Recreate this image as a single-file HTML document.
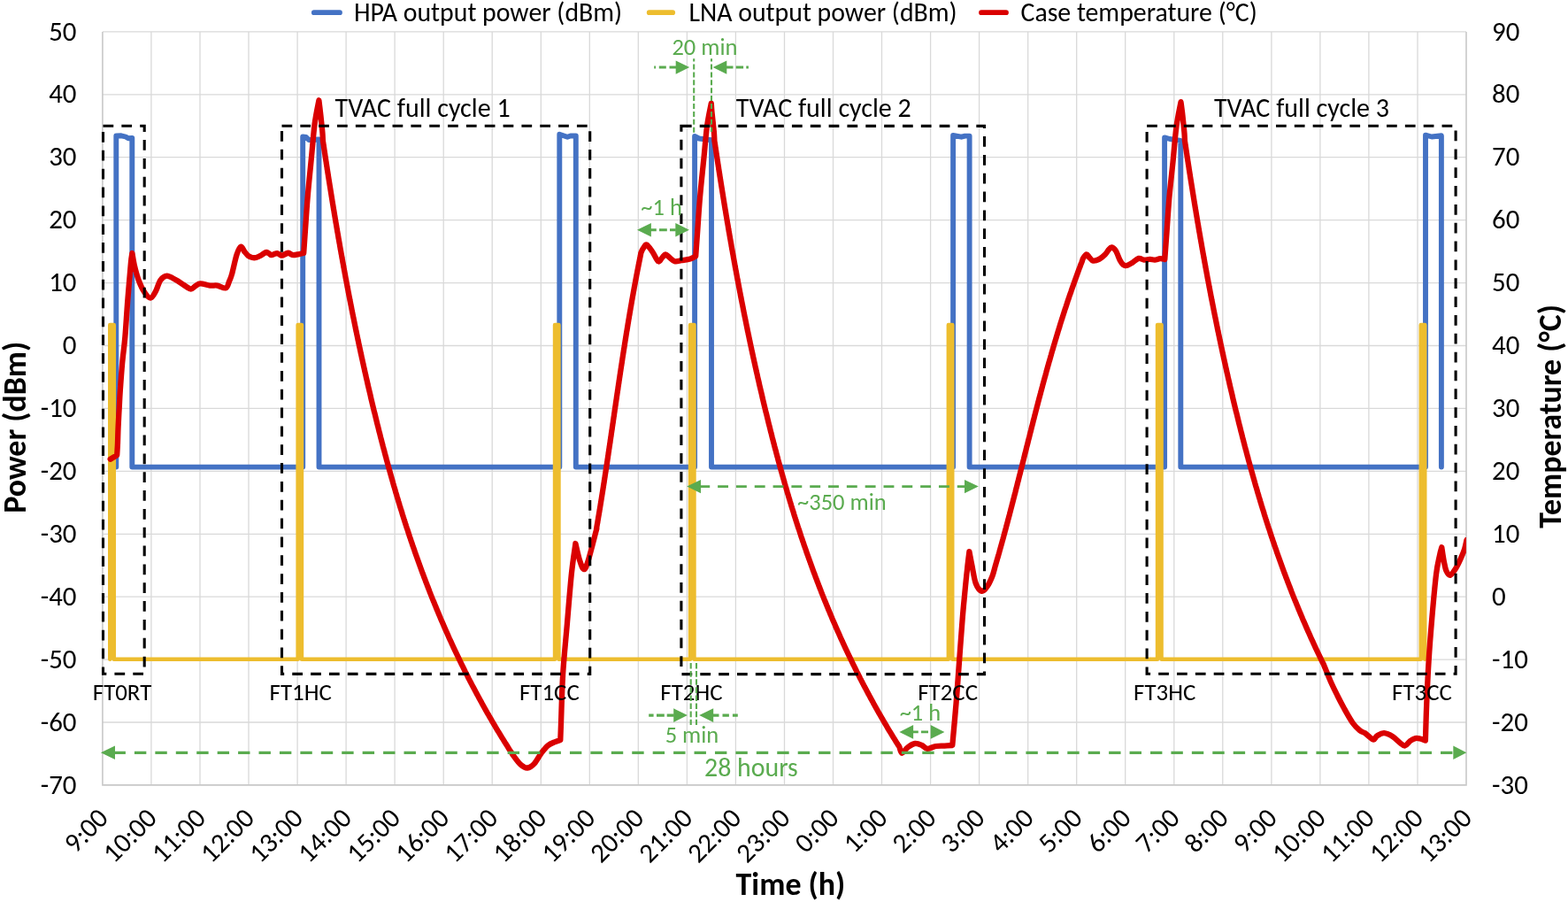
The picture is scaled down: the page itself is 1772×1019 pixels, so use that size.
<!DOCTYPE html>
<html><head><meta charset="utf-8"><title>TVAC cycles</title>
<style>html,body{margin:0;padding:0;background:#fff;overflow:hidden}svg{display:block}</style>
</head><body>
<svg width="1772" height="1019" viewBox="0 0 1772 1019">
<style>
text{font-family:Carlito, 'Liberation Sans', sans-serif;fill:#000}
.t{font-size:30.9px}
.l{font-size:29.8px}
.b{font-size:35.9px;font-weight:bold}
.a{font-size:30px}
.f{font-size:26.9px}
.h{font-size:29.9px;fill:#5aab4f}
.g{font-size:26.5px;fill:#5aab4f}
</style>
<rect width="1772" height="1019" fill="#fff"/>
<path d="M170.9 35.9V886.9 M226.0 35.9V886.9 M281.0 35.9V886.9 M336.1 35.9V886.9 M391.1 35.9V886.9 M446.1 35.9V886.9 M501.2 35.9V886.9 M556.2 35.9V886.9 M611.3 35.9V886.9 M666.3 35.9V886.9 M721.3 35.9V886.9 M776.4 35.9V886.9 M831.4 35.9V886.9 M886.5 35.9V886.9 M941.5 35.9V886.9 M996.5 35.9V886.9 M1051.6 35.9V886.9 M1106.6 35.9V886.9 M1161.7 35.9V886.9 M1216.7 35.9V886.9 M1271.7 35.9V886.9 M1326.8 35.9V886.9 M1381.8 35.9V886.9 M1436.9 35.9V886.9 M1491.9 35.9V886.9 M1546.9 35.9V886.9 M1602.0 35.9V886.9 M115.9 35.9H1657.0 M115.9 106.8H1657.0 M115.9 177.7H1657.0 M115.9 248.7H1657.0 M115.9 319.6H1657.0 M115.9 390.5H1657.0 M115.9 461.4H1657.0 M115.9 532.3H1657.0 M115.9 603.3H1657.0 M115.9 674.2H1657.0 M115.9 745.1H1657.0 M115.9 816.0H1657.0" stroke="#d9d9d9" stroke-width="1.3" fill="none"/><path d="M115.9 35.9V886.9H1657.0V35.9" stroke="#c8c8c8" stroke-width="1.6" fill="none"/><text x="86.5" y="45.5" text-anchor="end" class="t" textLength="31.3" lengthAdjust="spacingAndGlyphs">50</text><text x="1686" y="45.5" class="t" textLength="31.3" lengthAdjust="spacingAndGlyphs">90</text><text x="86.5" y="116.4" text-anchor="end" class="t" textLength="31.3" lengthAdjust="spacingAndGlyphs">40</text><text x="1686" y="116.4" class="t" textLength="31.3" lengthAdjust="spacingAndGlyphs">80</text><text x="86.5" y="187.3" text-anchor="end" class="t" textLength="31.3" lengthAdjust="spacingAndGlyphs">30</text><text x="1686" y="187.3" class="t" textLength="31.3" lengthAdjust="spacingAndGlyphs">70</text><text x="86.5" y="258.3" text-anchor="end" class="t" textLength="31.3" lengthAdjust="spacingAndGlyphs">20</text><text x="1686" y="258.3" class="t" textLength="31.3" lengthAdjust="spacingAndGlyphs">60</text><text x="86.5" y="329.2" text-anchor="end" class="t" textLength="31.3" lengthAdjust="spacingAndGlyphs">10</text><text x="1686" y="329.2" class="t" textLength="31.3" lengthAdjust="spacingAndGlyphs">50</text><text x="86.5" y="400.1" text-anchor="end" class="t" textLength="15.7" lengthAdjust="spacingAndGlyphs">0</text><text x="1686" y="400.1" class="t" textLength="31.3" lengthAdjust="spacingAndGlyphs">40</text><text x="86.5" y="471.0" text-anchor="end" class="t" textLength="40.8" lengthAdjust="spacingAndGlyphs">-10</text><text x="1686" y="471.0" class="t" textLength="31.3" lengthAdjust="spacingAndGlyphs">30</text><text x="86.5" y="541.9" text-anchor="end" class="t" textLength="40.8" lengthAdjust="spacingAndGlyphs">-20</text><text x="1686" y="541.9" class="t" textLength="31.3" lengthAdjust="spacingAndGlyphs">20</text><text x="86.5" y="612.9" text-anchor="end" class="t" textLength="40.8" lengthAdjust="spacingAndGlyphs">-30</text><text x="1686" y="612.9" class="t" textLength="31.3" lengthAdjust="spacingAndGlyphs">10</text><text x="86.5" y="683.8" text-anchor="end" class="t" textLength="40.8" lengthAdjust="spacingAndGlyphs">-40</text><text x="1686" y="683.8" class="t" textLength="15.7" lengthAdjust="spacingAndGlyphs">0</text><text x="86.5" y="754.7" text-anchor="end" class="t" textLength="40.8" lengthAdjust="spacingAndGlyphs">-50</text><text x="1686" y="754.7" class="t" textLength="40.8" lengthAdjust="spacingAndGlyphs">-10</text><text x="86.5" y="825.6" text-anchor="end" class="t" textLength="40.8" lengthAdjust="spacingAndGlyphs">-60</text><text x="1686" y="825.6" class="t" textLength="40.8" lengthAdjust="spacingAndGlyphs">-20</text><text x="86.5" y="896.5" text-anchor="end" class="t" textLength="40.8" lengthAdjust="spacingAndGlyphs">-70</text><text x="1686" y="896.5" class="t" textLength="40.8" lengthAdjust="spacingAndGlyphs">-30</text><text transform="translate(123.9,926) rotate(-45)" text-anchor="end" class="t" textLength="55.2" lengthAdjust="spacingAndGlyphs">9:00</text><text transform="translate(178.9,926) rotate(-45)" text-anchor="end" class="t" textLength="70.9" lengthAdjust="spacingAndGlyphs">10:00</text><text transform="translate(234.0,926) rotate(-45)" text-anchor="end" class="t" textLength="70.9" lengthAdjust="spacingAndGlyphs">11:00</text><text transform="translate(289.0,926) rotate(-45)" text-anchor="end" class="t" textLength="70.9" lengthAdjust="spacingAndGlyphs">12:00</text><text transform="translate(344.1,926) rotate(-45)" text-anchor="end" class="t" textLength="70.9" lengthAdjust="spacingAndGlyphs">13:00</text><text transform="translate(399.1,926) rotate(-45)" text-anchor="end" class="t" textLength="70.9" lengthAdjust="spacingAndGlyphs">14:00</text><text transform="translate(454.1,926) rotate(-45)" text-anchor="end" class="t" textLength="70.9" lengthAdjust="spacingAndGlyphs">15:00</text><text transform="translate(509.2,926) rotate(-45)" text-anchor="end" class="t" textLength="70.9" lengthAdjust="spacingAndGlyphs">16:00</text><text transform="translate(564.2,926) rotate(-45)" text-anchor="end" class="t" textLength="70.9" lengthAdjust="spacingAndGlyphs">17:00</text><text transform="translate(619.3,926) rotate(-45)" text-anchor="end" class="t" textLength="70.9" lengthAdjust="spacingAndGlyphs">18:00</text><text transform="translate(674.3,926) rotate(-45)" text-anchor="end" class="t" textLength="70.9" lengthAdjust="spacingAndGlyphs">19:00</text><text transform="translate(729.3,926) rotate(-45)" text-anchor="end" class="t" textLength="70.9" lengthAdjust="spacingAndGlyphs">20:00</text><text transform="translate(784.4,926) rotate(-45)" text-anchor="end" class="t" textLength="70.9" lengthAdjust="spacingAndGlyphs">21:00</text><text transform="translate(839.4,926) rotate(-45)" text-anchor="end" class="t" textLength="70.9" lengthAdjust="spacingAndGlyphs">22:00</text><text transform="translate(894.5,926) rotate(-45)" text-anchor="end" class="t" textLength="70.9" lengthAdjust="spacingAndGlyphs">23:00</text><text transform="translate(949.5,926) rotate(-45)" text-anchor="end" class="t" textLength="55.2" lengthAdjust="spacingAndGlyphs">0:00</text><text transform="translate(1004.5,926) rotate(-45)" text-anchor="end" class="t" textLength="55.2" lengthAdjust="spacingAndGlyphs">1:00</text><text transform="translate(1059.6,926) rotate(-45)" text-anchor="end" class="t" textLength="55.2" lengthAdjust="spacingAndGlyphs">2:00</text><text transform="translate(1114.6,926) rotate(-45)" text-anchor="end" class="t" textLength="55.2" lengthAdjust="spacingAndGlyphs">3:00</text><text transform="translate(1169.7,926) rotate(-45)" text-anchor="end" class="t" textLength="55.2" lengthAdjust="spacingAndGlyphs">4:00</text><text transform="translate(1224.7,926) rotate(-45)" text-anchor="end" class="t" textLength="55.2" lengthAdjust="spacingAndGlyphs">5:00</text><text transform="translate(1279.7,926) rotate(-45)" text-anchor="end" class="t" textLength="55.2" lengthAdjust="spacingAndGlyphs">6:00</text><text transform="translate(1334.8,926) rotate(-45)" text-anchor="end" class="t" textLength="55.2" lengthAdjust="spacingAndGlyphs">7:00</text><text transform="translate(1389.8,926) rotate(-45)" text-anchor="end" class="t" textLength="55.2" lengthAdjust="spacingAndGlyphs">8:00</text><text transform="translate(1444.9,926) rotate(-45)" text-anchor="end" class="t" textLength="55.2" lengthAdjust="spacingAndGlyphs">9:00</text><text transform="translate(1499.9,926) rotate(-45)" text-anchor="end" class="t" textLength="70.9" lengthAdjust="spacingAndGlyphs">10:00</text><text transform="translate(1554.9,926) rotate(-45)" text-anchor="end" class="t" textLength="70.9" lengthAdjust="spacingAndGlyphs">11:00</text><text transform="translate(1610.0,926) rotate(-45)" text-anchor="end" class="t" textLength="70.9" lengthAdjust="spacingAndGlyphs">12:00</text><text transform="translate(1665.0,926) rotate(-45)" text-anchor="end" class="t" textLength="70.9" lengthAdjust="spacingAndGlyphs">13:00</text><text transform="translate(28.5,482.8) rotate(-90)" text-anchor="middle" class="b" textLength="194.1" lengthAdjust="spacingAndGlyphs">Power (dBm)</text><text transform="translate(1764,470.4) rotate(-90)" text-anchor="middle" class="b" textLength="252.5" lengthAdjust="spacingAndGlyphs">Temperature (°C)</text><text x="893.4" y="1010.5" text-anchor="middle" class="b" textLength="123.6" lengthAdjust="spacingAndGlyphs">Time (h)</text><path d="M354.8 14.2H384.0" stroke="#4472c4" stroke-width="5.7" stroke-linecap="round"/><text x="400" y="24.2" class="l" textLength="303.1" lengthAdjust="spacingAndGlyphs">HPA output power (dBm)</text><path d="M733.7 14.2H760.2" stroke="#edbd2e" stroke-width="5.7" stroke-linecap="round"/><text x="778.5" y="24.2" class="l" textLength="303.1" lengthAdjust="spacingAndGlyphs">LNA output power (dBm)</text><path d="M1109 14.2H1137" stroke="#da0000" stroke-width="5.7" stroke-linecap="round"/><text x="1153.5" y="24.2" class="l" textLength="267.2" lengthAdjust="spacingAndGlyphs">Case temperature (°C)</text>
<path d="M125.0 527.6 L131.3 527.6 L131.3 153.5 L137.0 153.3 L142.0 154.5 L145.0 156.3 L149.3 156.0 L149.3 527.6 L342.2 527.6 L342.2 154.5 L346.0 155.0 L349.0 158.0 L360.5 157.5 L360.5 527.6 L632.3 527.6 L632.3 151.8 L641.2 154.7 L644.7 153.5 L650.8 153.5 L650.8 527.6 L785.1 527.6 L785.1 154.0 L790.0 156.5 L804.0 158.3 L804.0 527.6 L1077.1 527.6 L1077.1 153.0 L1086.5 154.7 L1090.6 153.6 L1095.6 153.6 L1095.6 527.6 L1316.1 527.6 L1316.1 155.4 L1322.0 157.0 L1334.3 158.8 L1334.3 527.6 L1611.0 527.6 L1611.0 152.7 L1618.0 154.5 L1628.9 153.3 L1628.9 527.6" fill="none" stroke="#4472c4" stroke-width="5.9" stroke-linejoin="round" stroke-linecap="round"/>
<path d="M124.3 744.7 L124.3 367.0 L128.7 367.0 L128.7 744.7 L336.7 744.7 L336.7 367.0 L340.9 367.0 L340.9 744.7 L627.1 744.7 L627.1 367.0 L631.4 367.0 L631.4 744.7 L780.1 744.7 L780.1 367.0 L784.4 367.0 L784.4 744.7 L1071.9 744.7 L1071.9 367.0 L1076.2 367.0 L1076.2 744.7 L1308.1 744.7 L1308.1 367.0 L1312.5 367.0 L1312.5 744.7 L1605.8 744.7 L1605.8 367.0 L1610.2 367.0 L1610.2 744.7" fill="none" stroke="#edbd2e" stroke-width="4.6" stroke-linejoin="round" stroke-linecap="round"/>
<clipPath id="pa"><rect x="115.9" y="20" width="1541.2" height="866.9"/></clipPath>
<path clip-path="url(#pa)" d="M124.7 518.7 L132.2 514.2 C132.3 511.8 132.8 505.4 133.0 500.0 C133.2 494.6 133.3 488.5 133.6 482.0 C133.9 475.5 134.3 468.0 134.7 461.0 C135.1 454.0 135.3 448.5 135.9 440.0 C136.5 431.5 137.3 420.0 138.2 410.0 C139.1 400.0 140.4 392.0 141.4 380.0 C142.4 368.0 143.3 351.7 144.4 338.0 C145.5 324.3 147.0 306.7 147.8 298.0 C148.6 289.3 149.1 288.0 149.4 286.0 C149.8 288.2 150.6 294.3 151.8 299.4 C153.0 304.5 154.8 311.4 156.7 316.6 C158.6 321.8 161.2 327.2 163.5 330.5 C165.8 333.8 168.1 336.9 170.2 336.6 C172.3 336.4 174.2 332.3 176.0 329.0 C177.8 325.7 179.2 319.5 181.3 316.6 C183.4 313.7 185.7 311.8 188.6 311.7 C191.5 311.6 195.8 314.7 198.9 316.3 C202.0 317.9 204.2 319.8 207.0 321.5 C209.8 323.2 213.1 326.2 215.4 326.5 C217.7 326.8 219.2 324.0 221.0 323.0 C222.8 322.0 223.7 320.5 226.4 320.4 C229.1 320.3 234.2 322.2 237.4 322.6 C240.6 323.0 242.6 322.1 245.6 322.6 C248.6 323.1 253.0 326.2 255.2 325.4 C257.4 324.6 257.9 320.6 259.0 318.0 C260.1 315.4 260.7 314.6 262.1 309.5 C263.5 304.4 265.9 292.6 267.6 287.5 C269.3 282.4 270.7 279.2 272.2 278.7 C273.7 278.2 275.1 282.8 276.5 284.5 C277.9 286.2 279.1 287.9 280.5 289.0 C281.9 290.1 283.5 290.7 285.0 291.0 C286.5 291.3 287.8 291.4 289.5 291.0 C291.2 290.6 293.2 289.5 295.0 288.5 C296.8 287.5 299.1 285.4 300.5 285.0 C301.9 284.6 302.5 285.5 303.5 286.0 C304.5 286.5 305.4 288.0 306.5 288.2 C307.6 288.4 308.9 287.4 310.0 287.0 C311.1 286.6 312.2 286.0 313.2 286.1 C314.2 286.2 315.1 287.1 316.0 287.5 C316.9 287.9 317.7 288.8 318.8 288.7 C319.9 288.6 321.3 287.5 322.5 287.0 C323.7 286.5 324.8 285.6 325.8 285.6 C326.8 285.6 327.6 286.6 328.5 287.0 C329.4 287.4 330.1 288.1 331.5 288.2 C332.9 288.2 335.1 287.7 337.0 287.3 C338.9 286.9 342.2 286.2 343.2 286.0 C343.5 281.4 344.3 269.6 345.1 258.4 C345.9 247.2 346.8 232.0 348.0 218.9 C349.1 205.7 350.6 192.6 351.8 179.4 C353.1 166.3 354.2 151.0 355.6 140.0 C357.1 128.9 359.6 117.7 360.4 113.3 C360.7 115.5 361.5 122.1 362.0 126.5 C362.5 130.9 363.0 135.7 363.4 139.5 C363.8 143.3 364.1 146.3 364.4 149.5 C364.7 152.7 364.8 156.8 364.9 158.8 C365.1 160.8 365.2 160.5 365.3 161.3 C365.4 162.1 365.5 163.0 365.7 163.8 C365.8 164.6 365.9 165.5 366.0 166.3 C366.2 167.1 366.3 168.0 366.4 168.8 C366.5 169.6 366.7 170.5 366.8 171.3 C366.9 172.1 367.0 173.0 367.2 173.8 C367.3 174.6 367.4 175.5 367.5 176.3 C367.7 177.1 367.8 178.0 367.9 178.8 C368.1 179.6 368.2 180.5 368.3 181.3 C368.4 182.1 368.6 183.0 368.7 183.8 C368.8 184.6 368.9 185.5 369.1 186.3 C369.2 187.1 369.3 188.0 369.5 188.8 C369.6 189.6 369.7 190.5 369.8 191.3 C370.0 192.1 370.1 193.0 370.2 193.8 C370.4 194.6 370.5 195.5 370.6 196.3 C370.8 197.1 370.9 198.0 371.0 198.8 C371.1 199.6 371.3 200.5 371.4 201.3 C371.5 202.1 371.7 203.0 371.8 203.8 C371.9 204.6 372.1 205.5 372.2 206.3 C372.3 207.1 372.5 208.0 372.6 208.8 C372.7 209.6 372.9 210.5 373.0 211.3 C373.1 212.1 373.3 213.0 373.4 213.8 C373.5 214.6 373.7 215.5 373.8 216.3 C373.9 217.1 374.1 218.0 374.2 218.8 C374.3 219.6 374.5 220.5 374.6 221.3 C374.7 222.1 374.9 223.0 375.0 223.8 C375.1 224.6 375.3 225.5 375.4 226.3 C375.5 227.1 375.7 228.0 375.8 228.8 C375.9 229.6 376.1 230.5 376.2 231.3 C376.4 232.1 376.5 233.0 376.6 233.8 C376.8 234.6 376.9 235.5 377.0 236.3 C377.2 237.1 377.3 238.0 377.5 238.8 C377.6 239.6 377.7 240.5 377.9 241.3 C378.0 242.1 378.1 243.0 378.3 243.8 C378.4 244.6 378.6 245.5 378.7 246.3 C378.8 247.1 379.0 248.0 379.1 248.8 C379.3 249.6 379.4 250.5 379.5 251.3 C379.7 252.1 379.8 253.0 380.0 253.8 C380.1 254.6 380.3 255.5 380.4 256.3 C380.5 257.1 380.7 258.0 380.8 258.8 C381.0 259.6 381.1 260.5 381.2 261.3 C381.4 262.1 381.5 263.0 381.7 263.8 C381.8 264.6 382.0 265.5 382.1 266.3 C382.3 267.1 382.4 268.0 382.5 268.8 C382.7 269.6 382.8 270.5 383.0 271.3 C383.1 272.1 383.3 273.0 383.4 273.8 C383.6 274.6 383.7 275.5 383.9 276.3 C384.0 277.1 384.1 278.0 384.3 278.8 C384.4 279.6 384.6 280.5 384.7 281.3 C384.9 282.1 385.0 283.0 385.2 283.8 C385.3 284.6 385.5 285.5 385.6 286.3 C385.8 287.1 385.9 288.0 386.1 288.8 C386.2 289.6 386.4 290.5 386.5 291.3 C386.7 292.1 386.8 293.0 387.0 293.8 C387.1 294.6 387.3 295.5 387.4 296.3 C387.6 297.1 387.7 298.0 387.9 298.8 C388.0 299.6 388.2 300.5 388.3 301.3 C388.5 302.1 388.6 303.0 388.8 303.8 C388.9 304.6 389.1 305.5 389.3 306.3 C389.4 307.1 389.6 308.0 389.7 308.8 C389.9 309.6 390.0 310.5 390.2 311.3 C390.3 312.1 390.5 313.0 390.6 313.8 C390.8 314.6 391.0 315.5 391.1 316.3 C391.3 317.1 391.4 318.0 391.6 318.8 C391.7 319.6 391.9 320.5 392.1 321.3 C392.2 322.1 392.4 323.0 392.5 323.8 C392.7 324.6 392.8 325.5 393.0 326.3 C393.2 327.1 393.3 328.0 393.5 328.8 C393.6 329.6 393.8 330.5 394.0 331.3 C394.1 332.1 394.3 333.0 394.4 333.8 C394.6 334.6 394.8 335.5 394.9 336.3 C395.1 337.1 395.3 338.0 395.4 338.8 C395.6 339.6 395.7 340.5 395.9 341.3 C396.1 342.1 396.2 343.0 396.4 343.8 C396.6 344.6 396.7 345.5 396.9 346.3 C397.1 347.1 397.2 348.0 397.4 348.8 C397.5 349.6 397.7 350.5 397.9 351.3 C398.0 352.1 398.2 353.0 398.4 353.8 C398.5 354.6 398.7 355.5 398.9 356.3 C399.0 357.1 399.2 358.0 399.4 358.8 C399.6 359.6 399.7 360.5 399.9 361.3 C400.1 362.1 400.2 363.0 400.4 363.8 C400.6 364.6 400.7 365.5 400.9 366.3 C401.1 367.1 401.2 368.0 401.4 368.8 C401.6 369.6 401.8 370.5 401.9 371.3 C402.1 372.1 402.3 373.0 402.4 373.8 C402.6 374.6 402.8 375.5 403.0 376.3 C403.1 377.1 403.3 378.0 403.5 378.8 C403.7 379.6 403.8 380.5 404.0 381.3 C404.2 382.1 404.4 383.0 404.5 383.8 C404.7 384.6 404.9 385.5 405.1 386.3 C405.2 387.1 405.4 388.0 405.6 388.8 C405.8 389.6 405.9 390.5 406.1 391.3 C406.3 392.1 406.5 393.0 406.7 393.8 C406.8 394.6 407.0 395.5 407.2 396.3 C407.4 397.1 407.6 398.0 407.7 398.8 C407.9 399.6 408.1 400.5 408.3 401.3 C408.5 402.1 408.6 403.0 408.8 403.8 C409.0 404.6 409.2 405.5 409.4 406.3 C409.6 407.1 409.7 408.0 409.9 408.8 C410.1 409.6 410.3 410.5 410.5 411.3 C410.7 412.1 410.8 413.0 411.0 413.8 C411.2 414.6 411.4 415.5 411.6 416.3 C411.8 417.1 412.0 418.0 412.1 418.8 C412.3 419.6 412.5 420.5 412.7 421.3 C412.9 422.1 413.1 423.0 413.3 423.8 C413.5 424.6 413.6 425.5 413.8 426.3 C414.0 427.1 414.2 428.0 414.4 428.8 C414.6 429.6 414.8 430.5 415.0 431.3 C415.2 432.1 415.4 433.0 415.5 433.8 C415.7 434.6 415.9 435.5 416.1 436.3 C416.3 437.1 416.5 438.0 416.7 438.8 C416.9 439.6 417.1 440.5 417.3 441.3 C417.5 442.1 417.7 443.0 417.9 443.8 C418.1 444.6 418.3 445.5 418.5 446.3 C418.7 447.1 418.9 448.0 419.0 448.8 C419.2 449.6 419.4 450.5 419.6 451.3 C419.8 452.1 420.0 453.0 420.2 453.8 C420.4 454.6 420.6 455.5 420.8 456.3 C421.0 457.1 421.2 458.0 421.4 458.8 C421.6 459.6 421.8 460.5 422.0 461.3 C422.2 462.1 422.4 463.0 422.6 463.8 C422.8 464.6 423.0 465.5 423.3 466.3 C423.5 467.1 423.7 468.0 423.9 468.8 C424.1 469.6 424.3 470.5 424.5 471.3 C424.7 472.1 424.9 473.0 425.1 473.8 C425.3 474.6 425.5 475.5 425.7 476.3 C425.9 477.1 426.1 478.0 426.3 478.8 C426.5 479.6 426.8 480.5 427.0 481.3 C427.2 482.1 427.4 483.0 427.6 483.8 C427.8 484.6 428.0 485.5 428.2 486.3 C428.4 487.1 428.6 488.0 428.9 488.8 C429.1 489.6 429.3 490.5 429.5 491.3 C429.7 492.1 429.9 493.0 430.1 493.8 C430.4 494.6 430.6 495.5 430.8 496.3 C431.0 497.1 431.2 498.0 431.4 498.8 C431.6 499.6 431.9 500.5 432.1 501.3 C432.3 502.1 432.5 503.0 432.7 503.8 C433.0 504.6 433.2 505.5 433.4 506.3 C433.6 507.1 433.8 508.0 434.1 508.8 C434.3 509.6 434.5 510.5 434.7 511.3 C434.9 512.1 435.2 513.0 435.4 513.8 C435.6 514.6 435.8 515.5 436.1 516.3 C436.3 517.1 436.5 518.0 436.7 518.8 C437.0 519.6 437.2 520.5 437.4 521.3 C437.6 522.1 437.9 523.0 438.1 523.8 C438.3 524.6 438.6 525.5 438.8 526.3 C439.0 527.1 439.2 528.0 439.5 528.8 C439.7 529.6 439.9 530.5 440.2 531.3 C440.4 532.1 440.6 533.0 440.9 533.8 C441.1 534.6 441.3 535.5 441.6 536.3 C441.8 537.1 442.0 538.0 442.3 538.8 C442.5 539.6 442.7 540.5 443.0 541.3 C443.2 542.1 443.5 543.0 443.7 543.8 C443.9 544.6 444.2 545.5 444.4 546.3 C444.7 547.1 444.9 548.0 445.1 548.8 C445.4 549.6 445.6 550.5 445.9 551.3 C446.1 552.1 446.4 553.0 446.6 553.8 C446.8 554.6 447.1 555.5 447.3 556.3 C447.6 557.1 447.8 558.0 448.1 558.8 C448.3 559.6 448.6 560.5 448.8 561.3 C449.1 562.1 449.3 563.0 449.6 563.8 C449.8 564.6 450.1 565.5 450.3 566.3 C450.6 567.1 450.8 568.0 451.1 568.8 C451.3 569.6 451.6 570.5 451.8 571.3 C452.1 572.1 452.4 573.0 452.6 573.8 C452.9 574.6 453.1 575.5 453.4 576.3 C453.6 577.1 453.9 578.0 454.2 578.8 C454.4 579.6 454.7 580.5 454.9 581.3 C455.2 582.1 455.5 583.0 455.7 583.8 C456.0 584.6 456.3 585.5 456.5 586.3 C456.8 587.1 457.1 588.0 457.3 588.8 C457.6 589.6 457.9 590.5 458.1 591.3 C458.4 592.1 458.7 593.0 458.9 593.8 C459.2 594.6 459.5 595.5 459.7 596.3 C460.0 597.1 460.3 598.0 460.6 598.8 C460.8 599.6 461.1 600.5 461.4 601.3 C461.7 602.1 461.9 603.0 462.2 603.8 C462.5 604.6 462.8 605.5 463.0 606.3 C463.3 607.1 463.6 608.0 463.9 608.8 C464.2 609.6 464.4 610.5 464.7 611.3 C465.0 612.1 465.3 613.0 465.6 613.8 C465.9 614.6 466.1 615.5 466.4 616.3 C466.7 617.1 467.0 618.0 467.3 618.8 C467.6 619.6 467.9 620.5 468.2 621.3 C468.4 622.1 468.7 623.0 469.0 623.8 C469.3 624.6 469.6 625.5 469.9 626.3 C470.2 627.1 470.5 628.0 470.8 628.8 C471.1 629.6 471.4 630.5 471.7 631.3 C472.0 632.1 472.3 633.0 472.6 633.8 C472.9 634.6 473.2 635.5 473.5 636.3 C473.8 637.1 474.1 638.0 474.4 638.8 C474.7 639.6 475.0 640.5 475.3 641.3 C475.6 642.1 475.9 643.0 476.2 643.8 C476.5 644.6 476.8 645.5 477.1 646.3 C477.4 647.1 477.8 648.0 478.1 648.8 C478.4 649.6 478.7 650.5 479.0 651.3 C479.3 652.1 479.6 653.0 480.0 653.8 C480.3 654.6 480.6 655.5 480.9 656.3 C481.2 657.1 481.5 658.0 481.9 658.8 C482.2 659.6 482.5 660.5 482.8 661.3 C483.1 662.1 483.5 663.0 483.8 663.8 C484.1 664.6 484.4 665.5 484.8 666.3 C485.1 667.1 485.4 668.0 485.7 668.8 C486.1 669.6 486.4 670.5 486.7 671.3 C487.1 672.1 487.4 673.0 487.7 673.8 C488.1 674.6 488.4 675.5 488.7 676.3 C489.1 677.1 489.4 678.0 489.7 678.8 C490.1 679.6 490.4 680.5 490.8 681.3 C491.1 682.1 491.4 683.0 491.8 683.8 C492.1 684.6 492.5 685.5 492.8 686.3 C493.1 687.1 493.5 688.0 493.8 688.8 C494.2 689.6 494.5 690.5 494.9 691.3 C495.2 692.1 495.6 693.0 495.9 693.8 C496.3 694.6 496.6 695.5 497.0 696.3 C497.3 697.1 497.7 698.0 498.0 698.8 C498.4 699.6 498.8 700.5 499.1 701.3 C499.5 702.1 499.8 703.0 500.2 703.8 C500.6 704.6 500.9 705.5 501.3 706.3 C501.6 707.1 502.0 708.0 502.4 708.8 C502.7 709.6 503.1 710.5 503.5 711.3 C503.8 712.1 504.2 713.0 504.6 713.8 C505.0 714.6 505.3 715.5 505.7 716.3 C506.1 717.1 506.4 718.0 506.8 718.8 C507.2 719.6 507.6 720.5 507.9 721.3 C508.3 722.1 508.7 723.0 509.1 723.8 C509.5 724.6 509.8 725.5 510.2 726.3 C510.6 727.1 511.0 728.0 511.4 728.8 C511.8 729.6 512.2 730.5 512.5 731.3 C512.9 732.1 513.3 733.0 513.7 733.8 C514.1 734.6 514.5 735.5 514.9 736.3 C515.3 737.1 515.7 738.0 516.1 738.8 C516.5 739.6 516.9 740.5 517.3 741.3 C517.7 742.1 518.1 743.0 518.5 743.8 C518.9 744.6 519.3 745.5 519.7 746.3 C520.1 747.1 520.5 748.0 520.9 748.8 C521.3 749.6 521.7 750.5 522.1 751.3 C522.5 752.1 522.9 753.0 523.4 753.8 C523.8 754.6 524.2 755.5 524.6 756.3 C525.0 757.1 525.4 758.0 525.8 758.8 C526.3 759.6 526.7 760.5 527.1 761.3 C527.5 762.1 527.9 763.0 528.4 763.8 C528.8 764.6 529.2 765.5 529.6 766.3 C530.1 767.1 530.5 768.0 530.9 768.8 C531.4 769.6 531.8 770.5 532.2 771.3 C532.7 772.1 533.1 773.0 533.5 773.8 C534.0 774.6 534.4 775.5 534.8 776.3 C535.3 777.1 535.7 778.0 536.2 778.8 C536.6 779.6 537.0 780.5 537.5 781.3 C537.9 782.1 538.4 783.0 538.8 783.8 C539.3 784.6 539.7 785.5 540.2 786.3 C540.6 787.1 541.1 788.0 541.5 788.8 C542.0 789.6 542.4 790.5 542.9 791.3 C543.4 792.1 543.8 793.0 544.3 793.8 C544.7 794.6 545.2 795.5 545.7 796.3 C546.1 797.1 546.6 798.0 547.1 798.8 C547.5 799.6 548.0 800.5 548.5 801.3 C548.9 802.1 549.4 803.0 549.9 803.8 C550.3 804.6 550.8 805.5 551.3 806.3 C551.8 807.1 552.2 808.0 552.7 808.8 C553.2 809.6 553.7 810.5 554.2 811.3 C554.7 812.1 555.1 813.0 555.6 813.8 C556.1 814.6 556.6 815.5 557.1 816.3 C557.6 817.1 558.1 818.0 558.6 818.8 C559.1 819.6 559.5 820.5 560.0 821.3 C560.5 822.1 561.0 823.0 561.5 823.8 C562.0 824.6 562.5 825.5 563.0 826.3 C563.5 827.1 564.0 828.0 564.6 828.8 C565.1 829.6 565.6 830.5 566.1 831.3 C566.6 832.1 567.1 833.0 567.6 833.8 C568.1 834.6 568.6 835.5 569.2 836.3 C569.7 837.1 570.2 838.0 570.7 838.8 C571.2 839.6 571.8 840.5 572.3 841.3 C572.8 842.1 573.3 843.0 573.9 843.8 C574.4 844.6 574.9 845.5 575.4 846.3 C576.0 847.1 576.5 848.0 577.0 848.8 C577.6 849.6 578.1 850.5 578.7 851.3 C579.2 852.1 578.7 851.8 580.3 853.8 C581.9 855.8 585.6 861.3 588.2 863.6 C590.8 865.9 593.4 867.7 596.0 867.5 C598.6 867.3 601.3 865.4 603.9 862.6 C606.5 859.8 609.1 854.2 611.7 850.8 C614.3 847.4 617.0 844.1 619.6 842.0 C622.2 839.9 625.1 839.1 627.4 838.1 C629.7 837.1 632.3 836.4 633.3 836.1 C633.4 833.0 633.5 830.1 634.0 817.5 C634.5 804.9 635.0 779.6 636.2 760.6 C637.4 741.6 639.4 722.7 641.0 703.7 C642.6 684.8 644.4 661.9 646.0 646.9 C647.6 631.9 649.7 619.5 650.4 614.0 C651.2 617.2 653.5 628.1 655.1 633.0 C656.7 637.9 658.2 643.0 659.8 643.2 C661.4 643.4 662.2 641.2 664.5 634.0 C666.8 626.8 672.0 606.0 673.6 600.0 C675.2 594.0 673.8 598.6 674.0 597.8 C674.1 597.0 674.3 596.1 674.4 595.3 C674.5 594.5 674.7 593.6 674.8 592.8 C675.0 592.0 675.1 591.1 675.3 590.3 C675.4 589.5 675.5 588.6 675.7 587.8 C675.8 587.0 676.0 586.1 676.1 585.3 C676.2 584.5 676.4 583.6 676.5 582.8 C676.7 582.0 676.8 581.1 676.9 580.3 C677.1 579.5 677.2 578.6 677.4 577.8 C677.5 577.0 677.6 576.1 677.8 575.3 C677.9 574.5 678.0 573.6 678.2 572.8 C678.3 572.0 678.5 571.1 678.6 570.3 C678.7 569.5 678.9 568.6 679.0 567.8 C679.1 567.0 679.3 566.1 679.4 565.3 C679.5 564.5 679.7 563.6 679.8 562.8 C679.9 562.0 680.1 561.1 680.2 560.3 C680.3 559.5 680.5 558.6 680.6 557.8 C680.7 557.0 680.9 556.1 681.0 555.3 C681.1 554.5 681.3 553.6 681.4 552.8 C681.5 552.0 681.7 551.1 681.8 550.3 C681.9 549.5 682.0 548.6 682.2 547.8 C682.3 547.0 682.4 546.1 682.6 545.3 C682.7 544.5 682.8 543.6 682.9 542.8 C683.1 542.0 683.2 541.1 683.3 540.3 C683.5 539.5 683.6 538.6 683.7 537.8 C683.8 537.0 684.0 536.1 684.1 535.3 C684.2 534.5 684.4 533.6 684.5 532.8 C684.6 532.0 684.7 531.1 684.9 530.3 C685.0 529.5 685.1 528.6 685.2 527.8 C685.4 527.0 685.5 526.1 685.6 525.3 C685.8 524.5 685.9 523.6 686.0 522.8 C686.1 522.0 686.3 521.1 686.4 520.3 C686.5 519.5 686.6 518.6 686.8 517.8 C686.9 517.0 687.0 516.1 687.1 515.3 C687.3 514.5 687.4 513.6 687.5 512.8 C687.6 512.0 687.7 511.1 687.9 510.3 C688.0 509.5 688.1 508.6 688.2 507.8 C688.4 507.0 688.5 506.1 688.6 505.3 C688.7 504.5 688.9 503.6 689.0 502.8 C689.1 502.0 689.2 501.1 689.4 500.3 C689.5 499.5 689.6 498.6 689.7 497.8 C689.8 497.0 690.0 496.1 690.1 495.3 C690.2 494.5 690.3 493.6 690.5 492.8 C690.6 492.0 690.7 491.1 690.8 490.3 C690.9 489.5 691.1 488.6 691.2 487.8 C691.3 487.0 691.4 486.1 691.6 485.3 C691.7 484.5 691.8 483.6 691.9 482.8 C692.0 482.0 692.2 481.1 692.3 480.3 C692.4 479.5 692.5 478.6 692.7 477.8 C692.8 477.0 692.9 476.1 693.0 475.3 C693.1 474.5 693.3 473.6 693.4 472.8 C693.5 472.0 693.6 471.1 693.8 470.3 C693.9 469.5 694.0 468.6 694.1 467.8 C694.2 467.0 694.4 466.1 694.5 465.3 C694.6 464.5 694.7 463.6 694.8 462.8 C695.0 462.0 695.1 461.1 695.2 460.3 C695.3 459.5 695.5 458.6 695.6 457.8 C695.7 457.0 695.8 456.1 695.9 455.3 C696.1 454.5 696.2 453.6 696.3 452.8 C696.4 452.0 696.6 451.1 696.7 450.3 C696.8 449.5 696.9 448.6 697.0 447.8 C697.2 447.0 697.3 446.1 697.4 445.3 C697.5 444.5 697.7 443.6 697.8 442.8 C697.9 442.0 698.0 441.1 698.2 440.3 C698.3 439.5 698.4 438.6 698.5 437.8 C698.6 437.0 698.8 436.1 698.9 435.3 C699.0 434.5 699.1 433.6 699.3 432.8 C699.4 432.0 699.5 431.1 699.6 430.3 C699.8 429.5 699.9 428.6 700.0 427.8 C700.1 427.0 700.3 426.1 700.4 425.3 C700.5 424.5 700.6 423.6 700.8 422.8 C700.9 422.0 701.0 421.1 701.1 420.3 C701.3 419.5 701.4 418.6 701.5 417.8 C701.6 417.0 701.8 416.1 701.9 415.3 C702.0 414.5 702.1 413.6 702.3 412.8 C702.4 412.0 702.5 411.1 702.7 410.3 C702.8 409.5 702.9 408.6 703.0 407.8 C703.2 407.0 703.3 406.1 703.4 405.3 C703.5 404.5 703.7 403.6 703.8 402.8 C703.9 402.0 704.1 401.1 704.2 400.3 C704.3 399.5 704.4 398.6 704.6 397.8 C704.7 397.0 704.8 396.1 705.0 395.3 C705.1 394.5 705.2 393.6 705.4 392.8 C705.5 392.0 705.6 391.1 705.8 390.3 C705.9 389.5 706.0 388.6 706.1 387.8 C706.3 387.0 706.4 386.1 706.5 385.3 C706.7 384.5 706.8 383.6 706.9 382.8 C707.1 382.0 707.2 381.1 707.3 380.3 C707.5 379.5 707.6 378.6 707.7 377.8 C707.9 377.0 708.0 376.1 708.1 375.3 C708.3 374.5 708.4 373.6 708.6 372.8 C708.7 372.0 708.8 371.1 709.0 370.3 C709.1 369.5 709.2 368.6 709.4 367.8 C709.5 367.0 709.6 366.1 709.8 365.3 C709.9 364.5 710.1 363.6 710.2 362.8 C710.3 362.0 710.5 361.1 710.6 360.3 C710.8 359.5 710.9 358.6 711.0 357.8 C711.2 357.0 711.3 356.1 711.5 355.3 C711.6 354.5 711.7 353.6 711.9 352.8 C712.0 352.0 712.2 351.1 712.3 350.3 C712.5 349.5 712.6 348.6 712.7 347.8 C712.9 347.0 713.0 346.1 713.2 345.3 C713.3 344.5 713.5 343.6 713.6 342.8 C713.8 342.0 713.9 341.1 714.0 340.3 C714.2 339.5 714.3 338.6 714.5 337.8 C714.6 337.0 714.8 336.1 714.9 335.3 C715.1 334.5 715.2 333.6 715.4 332.8 C715.5 332.0 715.7 331.1 715.8 330.3 C716.0 329.5 716.1 328.6 716.3 327.8 C716.4 327.0 716.6 326.1 716.7 325.3 C716.9 324.5 717.0 323.6 717.2 322.8 C717.3 322.0 717.5 321.1 717.7 320.3 C717.8 319.5 718.0 318.6 718.1 317.8 C718.3 317.0 718.4 316.1 718.6 315.3 C718.7 314.5 718.9 313.6 719.1 312.8 C719.2 312.0 719.4 311.1 719.5 310.3 C719.7 309.5 719.9 308.6 720.0 307.8 C720.2 307.0 720.3 306.1 720.5 305.3 C720.7 304.5 720.8 303.6 721.0 302.8 C721.2 302.0 721.3 301.1 721.5 300.3 C721.6 299.5 721.8 298.6 722.0 297.8 C722.1 297.0 722.3 296.1 722.5 295.3 C722.6 294.5 722.8 293.6 723.0 292.8 C723.1 292.0 723.3 291.1 723.5 290.3 C723.6 289.5 723.8 288.6 724.0 287.8 C724.2 287.0 724.0 286.5 724.5 285.3 C725.0 284.1 725.9 281.9 727.0 280.4 C728.1 278.9 729.0 275.8 730.8 276.5 C732.5 277.2 735.3 281.6 737.5 284.7 C739.7 287.8 742.0 294.1 743.8 295.2 C745.5 296.3 746.6 292.8 748.0 291.5 C749.4 290.2 750.6 287.5 752.0 287.4 C753.4 287.3 754.8 289.5 756.5 290.8 C758.2 292.1 760.2 294.6 762.5 295.2 C764.8 295.8 767.1 294.7 770.0 294.2 C772.9 293.7 777.3 293.2 780.0 292.4 C782.7 291.6 785.2 290.0 786.2 289.5 C786.5 284.9 787.4 273.1 788.2 261.9 C789.0 250.7 789.9 235.5 791.1 222.3 C792.2 209.1 793.7 196.0 795.0 182.8 C796.4 169.6 797.5 154.3 798.9 143.3 C800.4 132.3 803.0 121.1 803.8 116.6 C803.9 118.2 804.1 122.7 804.5 126.5 C804.9 130.3 805.5 135.7 805.9 139.5 C806.3 143.3 806.6 146.3 806.9 149.5 C807.2 152.7 807.3 156.8 807.4 158.8 C807.6 160.8 807.7 160.5 807.8 161.3 C807.9 162.1 808.0 163.0 808.2 163.8 C808.3 164.6 808.4 165.5 808.5 166.3 C808.7 167.1 808.8 168.0 808.9 168.8 C809.0 169.6 809.2 170.5 809.3 171.3 C809.4 172.1 809.5 173.0 809.7 173.8 C809.8 174.6 809.9 175.5 810.0 176.3 C810.2 177.1 810.3 178.0 810.4 178.8 C810.6 179.6 810.7 180.5 810.8 181.3 C810.9 182.1 811.1 183.0 811.2 183.8 C811.3 184.6 811.4 185.5 811.6 186.3 C811.7 187.1 811.8 188.0 812.0 188.8 C812.1 189.6 812.2 190.5 812.3 191.3 C812.5 192.1 812.6 193.0 812.7 193.8 C812.9 194.6 813.0 195.5 813.1 196.3 C813.3 197.1 813.4 198.0 813.5 198.8 C813.6 199.6 813.8 200.5 813.9 201.3 C814.0 202.1 814.2 203.0 814.3 203.8 C814.4 204.6 814.6 205.5 814.7 206.3 C814.8 207.1 815.0 208.0 815.1 208.8 C815.2 209.6 815.4 210.5 815.5 211.3 C815.6 212.1 815.8 213.0 815.9 213.8 C816.0 214.6 816.2 215.5 816.3 216.3 C816.4 217.1 816.6 218.0 816.7 218.8 C816.8 219.6 817.0 220.5 817.1 221.3 C817.2 222.1 817.4 223.0 817.5 223.8 C817.6 224.6 817.8 225.5 817.9 226.3 C818.0 227.1 818.2 228.0 818.3 228.8 C818.4 229.6 818.6 230.5 818.7 231.3 C818.9 232.1 819.0 233.0 819.1 233.8 C819.3 234.6 819.4 235.5 819.5 236.3 C819.7 237.1 819.8 238.0 820.0 238.8 C820.1 239.6 820.2 240.5 820.4 241.3 C820.5 242.1 820.6 243.0 820.8 243.8 C820.9 244.6 821.1 245.5 821.2 246.3 C821.3 247.1 821.5 248.0 821.6 248.8 C821.8 249.6 821.9 250.5 822.0 251.3 C822.2 252.1 822.3 253.0 822.5 253.8 C822.6 254.6 822.8 255.5 822.9 256.3 C823.0 257.1 823.2 258.0 823.3 258.8 C823.5 259.6 823.6 260.5 823.7 261.3 C823.9 262.1 824.0 263.0 824.2 263.8 C824.3 264.6 824.5 265.5 824.6 266.3 C824.8 267.1 824.9 268.0 825.0 268.8 C825.2 269.6 825.3 270.5 825.5 271.3 C825.6 272.1 825.8 273.0 825.9 273.8 C826.1 274.6 826.2 275.5 826.4 276.3 C826.5 277.1 826.6 278.0 826.8 278.8 C826.9 279.6 827.1 280.5 827.2 281.3 C827.4 282.1 827.5 283.0 827.7 283.8 C827.8 284.6 828.0 285.5 828.1 286.3 C828.3 287.1 828.4 288.0 828.6 288.8 C828.7 289.6 828.9 290.5 829.0 291.3 C829.2 292.1 829.3 293.0 829.5 293.8 C829.6 294.6 829.8 295.5 829.9 296.3 C830.1 297.1 830.2 298.0 830.4 298.8 C830.5 299.6 830.7 300.5 830.8 301.3 C831.0 302.1 831.1 303.0 831.3 303.8 C831.4 304.6 831.6 305.5 831.8 306.3 C831.9 307.1 832.1 308.0 832.2 308.8 C832.4 309.6 832.5 310.5 832.7 311.3 C832.8 312.1 833.0 313.0 833.1 313.8 C833.3 314.6 833.5 315.5 833.6 316.3 C833.8 317.1 833.9 318.0 834.1 318.8 C834.2 319.6 834.4 320.5 834.6 321.3 C834.7 322.1 834.9 323.0 835.0 323.8 C835.2 324.6 835.3 325.5 835.5 326.3 C835.7 327.1 835.8 328.0 836.0 328.8 C836.1 329.6 836.3 330.5 836.5 331.3 C836.6 332.1 836.8 333.0 836.9 333.8 C837.1 334.6 837.3 335.5 837.4 336.3 C837.6 337.1 837.8 338.0 837.9 338.8 C838.1 339.6 838.2 340.5 838.4 341.3 C838.6 342.1 838.7 343.0 838.9 343.8 C839.1 344.6 839.2 345.5 839.4 346.3 C839.6 347.1 839.7 348.0 839.9 348.8 C840.0 349.6 840.2 350.5 840.4 351.3 C840.5 352.1 840.7 353.0 840.9 353.8 C841.0 354.6 841.2 355.5 841.4 356.3 C841.5 357.1 841.7 358.0 841.9 358.8 C842.1 359.6 842.2 360.5 842.4 361.3 C842.6 362.1 842.7 363.0 842.9 363.8 C843.1 364.6 843.2 365.5 843.4 366.3 C843.6 367.1 843.7 368.0 843.9 368.8 C844.1 369.6 844.3 370.5 844.4 371.3 C844.6 372.1 844.8 373.0 844.9 373.8 C845.1 374.6 845.3 375.5 845.5 376.3 C845.6 377.1 845.8 378.0 846.0 378.8 C846.2 379.6 846.3 380.5 846.5 381.3 C846.7 382.1 846.9 383.0 847.0 383.8 C847.2 384.6 847.4 385.5 847.6 386.3 C847.7 387.1 847.9 388.0 848.1 388.8 C848.3 389.6 848.4 390.5 848.6 391.3 C848.8 392.1 849.0 393.0 849.2 393.8 C849.3 394.6 849.5 395.5 849.7 396.3 C849.9 397.1 850.1 398.0 850.2 398.8 C850.4 399.6 850.6 400.5 850.8 401.3 C851.0 402.1 851.1 403.0 851.3 403.8 C851.5 404.6 851.7 405.5 851.9 406.3 C852.1 407.1 852.2 408.0 852.4 408.8 C852.6 409.6 852.8 410.5 853.0 411.3 C853.2 412.1 853.3 413.0 853.5 413.8 C853.7 414.6 853.9 415.5 854.1 416.3 C854.3 417.1 854.5 418.0 854.6 418.8 C854.8 419.6 855.0 420.5 855.2 421.3 C855.4 422.1 855.6 423.0 855.8 423.8 C856.0 424.6 856.1 425.5 856.3 426.3 C856.5 427.1 856.7 428.0 856.9 428.8 C857.1 429.6 857.3 430.5 857.5 431.3 C857.7 432.1 857.9 433.0 858.0 433.8 C858.2 434.6 858.4 435.5 858.6 436.3 C858.8 437.1 859.0 438.0 859.2 438.8 C859.4 439.6 859.6 440.5 859.8 441.3 C860.0 442.1 860.2 443.0 860.4 443.8 C860.6 444.6 860.8 445.5 861.0 446.3 C861.2 447.1 861.4 448.0 861.5 448.8 C861.7 449.6 861.9 450.5 862.1 451.3 C862.3 452.1 862.5 453.0 862.7 453.8 C862.9 454.6 863.1 455.5 863.3 456.3 C863.5 457.1 863.7 458.0 863.9 458.8 C864.1 459.6 864.3 460.5 864.5 461.3 C864.7 462.1 864.9 463.0 865.1 463.8 C865.3 464.6 865.5 465.5 865.8 466.3 C866.0 467.1 866.2 468.0 866.4 468.8 C866.6 469.6 866.8 470.5 867.0 471.3 C867.2 472.1 867.4 473.0 867.6 473.8 C867.8 474.6 868.0 475.5 868.2 476.3 C868.4 477.1 868.6 478.0 868.8 478.8 C869.0 479.6 869.3 480.5 869.5 481.3 C869.7 482.1 869.9 483.0 870.1 483.8 C870.3 484.6 870.5 485.5 870.7 486.3 C870.9 487.1 871.1 488.0 871.4 488.8 C871.6 489.6 871.8 490.5 872.0 491.3 C872.2 492.1 872.4 493.0 872.6 493.8 C872.9 494.6 873.1 495.5 873.3 496.3 C873.5 497.1 873.7 498.0 873.9 498.8 C874.1 499.6 874.4 500.5 874.6 501.3 C874.8 502.1 875.0 503.0 875.2 503.8 C875.5 504.6 875.7 505.5 875.9 506.3 C876.1 507.1 876.3 508.0 876.6 508.8 C876.8 509.6 877.0 510.5 877.2 511.3 C877.4 512.1 877.7 513.0 877.9 513.8 C878.1 514.6 878.3 515.5 878.6 516.3 C878.8 517.1 879.0 518.0 879.2 518.8 C879.5 519.6 879.7 520.5 879.9 521.3 C880.1 522.1 880.4 523.0 880.6 523.8 C880.8 524.6 881.1 525.5 881.3 526.3 C881.5 527.1 881.7 528.0 882.0 528.8 C882.2 529.6 882.4 530.5 882.7 531.3 C882.9 532.1 883.1 533.0 883.4 533.8 C883.6 534.6 883.8 535.5 884.1 536.3 C884.3 537.1 884.5 538.0 884.8 538.8 C885.0 539.6 885.2 540.5 885.5 541.3 C885.7 542.1 886.0 543.0 886.2 543.8 C886.4 544.6 886.7 545.5 886.9 546.3 C887.2 547.1 887.4 548.0 887.6 548.8 C887.9 549.6 888.1 550.5 888.4 551.3 C888.6 552.1 888.9 553.0 889.1 553.8 C889.3 554.6 889.6 555.5 889.8 556.3 C890.1 557.1 890.3 558.0 890.6 558.8 C890.8 559.6 891.1 560.5 891.3 561.3 C891.6 562.1 891.8 563.0 892.1 563.8 C892.3 564.6 892.6 565.5 892.8 566.3 C893.1 567.1 893.3 568.0 893.6 568.8 C893.8 569.6 894.1 570.5 894.3 571.3 C894.6 572.1 894.9 573.0 895.1 573.8 C895.4 574.6 895.6 575.5 895.9 576.3 C896.1 577.1 896.4 578.0 896.7 578.8 C896.9 579.6 897.2 580.5 897.4 581.3 C897.7 582.1 898.0 583.0 898.2 583.8 C898.5 584.6 898.8 585.5 899.0 586.3 C899.3 587.1 899.6 588.0 899.8 588.8 C900.1 589.6 900.4 590.5 900.6 591.3 C900.9 592.1 901.2 593.0 901.4 593.8 C901.7 594.6 902.0 595.5 902.2 596.3 C902.5 597.1 902.8 598.0 903.1 598.8 C903.3 599.6 903.6 600.5 903.9 601.3 C904.2 602.1 904.4 603.0 904.7 603.8 C905.0 604.6 905.3 605.5 905.5 606.3 C905.8 607.1 906.1 608.0 906.4 608.8 C906.7 609.6 906.9 610.5 907.2 611.3 C907.5 612.1 907.8 613.0 908.1 613.8 C908.4 614.6 908.6 615.5 908.9 616.3 C909.2 617.1 909.5 618.0 909.8 618.8 C910.1 619.6 910.4 620.5 910.7 621.3 C910.9 622.1 911.2 623.0 911.5 623.8 C911.8 624.6 912.1 625.5 912.4 626.3 C912.7 627.1 913.0 628.0 913.3 628.8 C913.6 629.6 913.9 630.5 914.2 631.3 C914.5 632.1 914.8 633.0 915.1 633.8 C915.4 634.6 915.7 635.5 916.0 636.3 C916.3 637.1 916.6 638.0 916.9 638.8 C917.2 639.6 917.5 640.5 917.8 641.3 C918.1 642.1 918.4 643.0 918.7 643.8 C919.0 644.6 919.3 645.5 919.6 646.3 C919.9 647.1 920.3 648.0 920.6 648.8 C920.9 649.6 921.2 650.5 921.5 651.3 C921.8 652.1 922.1 653.0 922.5 653.8 C922.8 654.6 923.1 655.5 923.4 656.3 C923.7 657.1 924.0 658.0 924.4 658.8 C924.7 659.6 925.0 660.5 925.3 661.3 C925.6 662.1 926.0 663.0 926.3 663.8 C926.6 664.6 926.9 665.5 927.3 666.3 C927.6 667.1 927.9 668.0 928.2 668.8 C928.6 669.6 928.9 670.5 929.2 671.3 C929.6 672.1 929.9 673.0 930.2 673.8 C930.6 674.6 930.9 675.5 931.2 676.3 C931.6 677.1 931.9 678.0 932.2 678.8 C932.6 679.6 932.9 680.5 933.3 681.3 C933.6 682.1 933.9 683.0 934.3 683.8 C934.6 684.6 935.0 685.5 935.3 686.3 C935.6 687.1 936.0 688.0 936.3 688.8 C936.7 689.6 937.0 690.5 937.4 691.3 C937.7 692.1 938.1 693.0 938.4 693.8 C938.8 694.6 939.1 695.5 939.5 696.3 C939.8 697.1 940.2 698.0 940.5 698.8 C940.9 699.6 941.3 700.5 941.6 701.3 C942.0 702.1 942.3 703.0 942.7 703.8 C943.1 704.6 943.4 705.5 943.8 706.3 C944.1 707.1 944.5 708.0 944.9 708.8 C945.2 709.6 945.6 710.5 946.0 711.3 C946.3 712.1 946.7 713.0 947.1 713.8 C947.5 714.6 947.8 715.5 948.2 716.3 C948.6 717.1 948.9 718.0 949.3 718.8 C949.7 719.6 950.1 720.5 950.4 721.3 C950.8 722.1 951.2 723.0 951.6 723.8 C952.0 724.6 952.3 725.5 952.7 726.3 C953.1 727.1 953.5 728.0 953.9 728.8 C954.3 729.6 954.7 730.5 955.0 731.3 C955.4 732.1 955.8 733.0 956.2 733.8 C956.6 734.6 957.0 735.5 957.4 736.3 C957.8 737.1 958.2 738.0 958.6 738.8 C959.0 739.6 959.4 740.5 959.8 741.3 C960.2 742.1 960.6 743.0 961.0 743.8 C961.4 744.6 961.8 745.5 962.2 746.3 C962.6 747.1 963.0 748.0 963.4 748.8 C963.8 749.6 964.2 750.5 964.6 751.3 C965.0 752.1 965.4 753.0 965.9 753.8 C966.3 754.6 966.7 755.5 967.1 756.3 C967.5 757.1 967.9 758.0 968.3 758.8 C968.8 759.6 969.2 760.5 969.6 761.3 C970.0 762.1 970.4 763.0 970.9 763.8 C971.3 764.6 971.7 765.5 972.1 766.3 C972.6 767.1 973.0 768.0 973.4 768.8 C973.9 769.6 974.3 770.5 974.7 771.3 C975.2 772.1 975.6 773.0 976.0 773.8 C976.5 774.6 976.9 775.5 977.3 776.3 C977.8 777.1 978.2 778.0 978.7 778.8 C979.1 779.6 979.5 780.5 980.0 781.3 C980.4 782.1 980.9 783.0 981.3 783.8 C981.8 784.6 982.2 785.5 982.7 786.3 C983.1 787.1 983.6 788.0 984.0 788.8 C984.5 789.6 984.9 790.5 985.4 791.3 C985.9 792.1 986.3 793.0 986.8 793.8 C987.2 794.6 987.7 795.5 988.2 796.3 C988.6 797.1 989.1 798.0 989.6 798.8 C990.0 799.6 990.5 800.5 991.0 801.3 C991.4 802.1 991.9 803.0 992.4 803.8 C992.8 804.6 993.3 805.5 993.8 806.3 C994.3 807.1 994.7 808.0 995.2 808.8 C995.7 809.6 996.2 810.5 996.7 811.3 C997.2 812.1 997.6 813.0 998.1 813.8 C998.6 814.6 999.1 815.5 999.6 816.3 C1000.1 817.1 1000.6 818.0 1001.1 818.8 C1001.6 819.6 1002.0 820.5 1002.5 821.3 C1003.0 822.1 1003.5 823.0 1004.0 823.8 C1004.5 824.6 1005.0 825.5 1005.5 826.3 C1006.0 827.1 1006.5 828.0 1007.1 828.8 C1007.6 829.6 1008.1 830.5 1008.6 831.3 C1009.1 832.1 1009.6 833.0 1010.1 833.8 C1010.6 834.6 1011.1 835.5 1011.7 836.3 C1012.2 837.1 1012.7 838.0 1013.2 838.8 C1013.7 839.6 1014.3 840.5 1014.8 841.3 C1015.3 842.1 1015.6 842.2 1016.4 843.8 C1017.1 845.4 1017.7 850.8 1019.3 850.8 C1020.9 850.8 1023.7 845.8 1026.2 844.0 C1028.7 842.2 1031.5 840.3 1034.1 840.0 C1036.7 839.7 1039.6 841.0 1041.9 842.0 C1044.2 843.0 1045.2 845.7 1047.8 845.9 C1050.4 846.1 1054.3 843.5 1057.6 843.0 C1060.9 842.5 1064.3 842.8 1067.4 842.6 C1070.5 842.4 1074.8 842.1 1076.3 842.0 C1077.0 834.2 1079.2 810.7 1080.5 795.0 C1081.8 779.3 1082.8 763.8 1084.0 748.0 C1085.2 732.2 1086.5 713.0 1087.6 700.0 C1088.6 687.0 1089.4 679.6 1090.3 670.0 C1091.2 660.4 1092.2 650.3 1093.1 642.5 C1093.9 634.7 1095.0 626.4 1095.4 623.2 C1095.9 626.0 1097.4 633.7 1098.6 639.7 C1099.8 645.7 1100.9 654.3 1102.7 659.0 C1104.5 663.7 1107.4 667.3 1109.6 667.9 C1111.8 668.5 1113.8 665.2 1115.7 662.5 C1117.6 659.8 1119.7 655.2 1121.2 651.5 C1122.7 647.8 1124.0 642.1 1124.6 640.0 C1125.2 637.9 1124.7 639.7 1124.9 639.1 C1125.0 638.5 1125.4 637.4 1125.6 636.6 C1125.8 635.8 1126.1 634.9 1126.3 634.1 C1126.6 633.3 1126.8 632.4 1127.0 631.6 C1127.3 630.8 1127.5 629.9 1127.8 629.1 C1128.0 628.3 1128.2 627.4 1128.5 626.6 C1128.7 625.8 1128.9 624.9 1129.2 624.1 C1129.4 623.3 1129.7 622.4 1129.9 621.6 C1130.1 620.8 1130.4 619.9 1130.6 619.1 C1130.8 618.3 1131.1 617.4 1131.3 616.6 C1131.5 615.8 1131.8 614.9 1132.0 614.1 C1132.2 613.3 1132.5 612.4 1132.7 611.6 C1132.9 610.8 1133.1 609.9 1133.4 609.1 C1133.6 608.3 1133.8 607.4 1134.1 606.6 C1134.3 605.8 1134.5 604.9 1134.7 604.1 C1135.0 603.3 1135.2 602.4 1135.4 601.6 C1135.6 600.8 1135.9 599.9 1136.1 599.1 C1136.3 598.3 1136.5 597.4 1136.8 596.6 C1137.0 595.8 1137.2 594.9 1137.4 594.1 C1137.7 593.3 1137.9 592.4 1138.1 591.6 C1138.3 590.8 1138.6 589.9 1138.8 589.1 C1139.0 588.3 1139.2 587.4 1139.4 586.6 C1139.7 585.8 1139.9 584.9 1140.1 584.1 C1140.3 583.3 1140.5 582.4 1140.8 581.6 C1141.0 580.8 1141.2 579.9 1141.4 579.1 C1141.6 578.3 1141.9 577.4 1142.1 576.6 C1142.3 575.8 1142.5 574.9 1142.7 574.1 C1142.9 573.3 1143.2 572.4 1143.4 571.6 C1143.6 570.8 1143.8 569.9 1144.0 569.1 C1144.2 568.3 1144.5 567.4 1144.7 566.6 C1144.9 565.8 1145.1 564.9 1145.3 564.1 C1145.5 563.3 1145.8 562.4 1146.0 561.6 C1146.2 560.8 1146.4 559.9 1146.6 559.1 C1146.8 558.3 1147.0 557.4 1147.3 556.6 C1147.5 555.8 1147.7 554.9 1147.9 554.1 C1148.1 553.3 1148.3 552.4 1148.5 551.6 C1148.7 550.8 1149.0 549.9 1149.2 549.1 C1149.4 548.3 1149.6 547.4 1149.8 546.6 C1150.0 545.8 1150.2 544.9 1150.4 544.1 C1150.7 543.3 1150.9 542.4 1151.1 541.6 C1151.3 540.8 1151.5 539.9 1151.7 539.1 C1151.9 538.3 1152.1 537.4 1152.3 536.6 C1152.6 535.8 1152.8 534.9 1153.0 534.1 C1153.2 533.3 1153.4 532.4 1153.6 531.6 C1153.8 530.8 1154.0 529.9 1154.2 529.1 C1154.4 528.3 1154.7 527.4 1154.9 526.6 C1155.1 525.8 1155.3 524.9 1155.5 524.1 C1155.7 523.3 1155.9 522.4 1156.1 521.6 C1156.3 520.8 1156.5 519.9 1156.8 519.1 C1157.0 518.3 1157.2 517.4 1157.4 516.6 C1157.6 515.8 1157.8 514.9 1158.0 514.1 C1158.2 513.3 1158.4 512.4 1158.6 511.6 C1158.9 510.8 1159.1 509.9 1159.3 509.1 C1159.5 508.3 1159.7 507.4 1159.9 506.6 C1160.1 505.8 1160.3 504.9 1160.5 504.1 C1160.7 503.3 1161.0 502.4 1161.2 501.6 C1161.4 500.8 1161.6 499.9 1161.8 499.1 C1162.0 498.3 1162.2 497.4 1162.4 496.6 C1162.6 495.8 1162.8 494.9 1163.1 494.1 C1163.3 493.3 1163.5 492.4 1163.7 491.6 C1163.9 490.8 1164.1 489.9 1164.3 489.1 C1164.5 488.3 1164.7 487.4 1165.0 486.6 C1165.2 485.8 1165.4 484.9 1165.6 484.1 C1165.8 483.3 1166.0 482.4 1166.2 481.6 C1166.4 480.8 1166.7 479.9 1166.9 479.1 C1167.1 478.3 1167.3 477.4 1167.5 476.6 C1167.7 475.8 1167.9 474.9 1168.1 474.1 C1168.4 473.3 1168.6 472.4 1168.8 471.6 C1169.0 470.8 1169.2 469.9 1169.4 469.1 C1169.6 468.3 1169.9 467.4 1170.1 466.6 C1170.3 465.8 1170.5 464.9 1170.7 464.1 C1170.9 463.3 1171.2 462.4 1171.4 461.6 C1171.6 460.8 1171.8 459.9 1172.0 459.1 C1172.2 458.3 1172.5 457.4 1172.7 456.6 C1172.9 455.8 1173.1 454.9 1173.3 454.1 C1173.5 453.3 1173.8 452.4 1174.0 451.6 C1174.2 450.8 1174.4 449.9 1174.6 449.1 C1174.9 448.3 1175.1 447.4 1175.3 446.6 C1175.5 445.8 1175.7 444.9 1176.0 444.1 C1176.2 443.3 1176.4 442.4 1176.6 441.6 C1176.9 440.8 1177.1 439.9 1177.3 439.1 C1177.5 438.3 1177.7 437.4 1178.0 436.6 C1178.2 435.8 1178.4 434.9 1178.6 434.1 C1178.9 433.3 1179.1 432.4 1179.3 431.6 C1179.5 430.8 1179.8 429.9 1180.0 429.1 C1180.2 428.3 1180.5 427.4 1180.7 426.6 C1180.9 425.8 1181.1 424.9 1181.4 424.1 C1181.6 423.3 1181.8 422.4 1182.1 421.6 C1182.3 420.8 1182.5 419.9 1182.7 419.1 C1183.0 418.3 1183.2 417.4 1183.4 416.6 C1183.7 415.8 1183.9 414.9 1184.1 414.1 C1184.4 413.3 1184.6 412.4 1184.8 411.6 C1185.1 410.8 1185.3 409.9 1185.5 409.1 C1185.8 408.3 1186.0 407.4 1186.3 406.6 C1186.5 405.8 1186.7 404.9 1187.0 404.1 C1187.2 403.3 1187.4 402.4 1187.7 401.6 C1187.9 400.8 1188.2 399.9 1188.4 399.1 C1188.6 398.3 1188.9 397.4 1189.1 396.6 C1189.4 395.8 1189.6 394.9 1189.9 394.1 C1190.1 393.3 1190.3 392.4 1190.6 391.6 C1190.8 390.8 1191.1 389.9 1191.3 389.1 C1191.6 388.3 1191.8 387.4 1192.1 386.6 C1192.3 385.8 1192.6 384.9 1192.8 384.1 C1193.1 383.3 1193.3 382.4 1193.6 381.6 C1193.8 380.8 1194.1 379.9 1194.3 379.1 C1194.6 378.3 1194.8 377.4 1195.1 376.6 C1195.3 375.8 1195.6 374.9 1195.8 374.1 C1196.1 373.3 1196.3 372.4 1196.6 371.6 C1196.9 370.8 1197.1 369.9 1197.4 369.1 C1197.6 368.3 1197.9 367.4 1198.1 366.6 C1198.4 365.8 1198.7 364.9 1198.9 364.1 C1199.2 363.3 1199.5 362.4 1199.7 361.6 C1200.0 360.8 1200.2 359.9 1200.5 359.1 C1200.8 358.3 1201.0 357.4 1201.3 356.6 C1201.6 355.8 1201.8 354.9 1202.1 354.1 C1202.4 353.3 1202.6 352.4 1202.9 351.6 C1203.2 350.8 1203.5 349.9 1203.7 349.1 C1204.0 348.3 1204.3 347.4 1204.6 346.6 C1204.8 345.8 1205.1 344.9 1205.4 344.1 C1205.7 343.3 1205.9 342.4 1206.2 341.6 C1206.5 340.8 1206.8 339.9 1207.0 339.1 C1207.3 338.3 1207.6 337.4 1207.9 336.6 C1208.2 335.8 1208.5 334.9 1208.7 334.1 C1209.0 333.3 1209.3 332.4 1209.6 331.6 C1209.9 330.8 1210.2 329.9 1210.5 329.1 C1210.7 328.3 1211.0 327.4 1211.3 326.6 C1211.6 325.8 1211.9 324.9 1212.2 324.1 C1212.5 323.3 1212.8 322.4 1213.1 321.6 C1213.4 320.8 1213.7 319.9 1214.0 319.1 C1214.3 318.3 1214.6 317.4 1214.9 316.6 C1215.2 315.8 1215.5 314.9 1215.8 314.1 C1216.1 313.3 1216.4 312.4 1216.7 311.6 C1217.0 310.8 1217.3 309.9 1217.6 309.1 C1217.9 308.3 1218.2 307.4 1218.5 306.6 C1218.8 305.8 1219.1 304.9 1219.4 304.1 C1219.7 303.3 1220.1 302.4 1220.4 301.6 C1220.7 300.8 1221.0 299.9 1221.3 299.1 C1221.6 298.3 1221.9 297.4 1222.3 296.6 C1222.6 295.8 1222.9 294.9 1223.2 294.1 C1223.5 293.3 1223.4 292.7 1224.2 291.6 C1225.0 290.5 1226.7 287.6 1227.9 287.5 C1229.1 287.4 1230.0 289.7 1231.2 290.9 C1232.4 292.1 1233.5 294.3 1235.3 294.6 C1237.1 294.9 1239.8 294.1 1242.1 292.9 C1244.4 291.7 1247.1 289.3 1248.9 287.5 C1250.7 285.7 1251.7 283.5 1252.9 282.1 C1254.1 280.8 1255.0 279.2 1256.3 279.4 C1257.6 279.6 1259.4 280.9 1261.0 283.4 C1262.6 285.9 1264.4 291.7 1265.8 294.3 C1267.2 296.9 1268.0 298.1 1269.2 299.0 C1270.4 299.9 1271.5 300.3 1273.2 300.0 C1274.9 299.7 1277.0 298.4 1279.3 297.0 C1281.6 295.6 1284.5 292.5 1286.8 291.9 C1289.1 291.3 1290.8 293.4 1292.9 293.6 C1295.0 293.8 1297.6 292.9 1299.6 292.9 C1301.6 292.9 1303.1 293.7 1305.0 293.6 C1306.9 293.5 1309.2 292.3 1311.1 292.2 C1313.0 292.1 1315.4 292.9 1316.3 293.0 C1316.6 288.3 1317.5 276.1 1318.4 264.6 C1319.2 253.1 1320.2 237.4 1321.3 223.9 C1322.5 210.3 1324.1 196.8 1325.5 183.3 C1326.8 169.7 1328.0 154.0 1329.5 142.7 C1331.0 131.3 1333.7 119.8 1334.5 115.2 C1334.8 117.1 1335.5 122.5 1336.0 126.5 C1336.5 130.6 1337.0 135.7 1337.4 139.5 C1337.8 143.3 1338.1 146.3 1338.4 149.5 C1338.7 152.7 1338.8 156.8 1338.9 158.8 C1339.1 160.8 1339.2 160.5 1339.3 161.3 C1339.4 162.1 1339.5 163.0 1339.7 163.8 C1339.8 164.6 1339.9 165.5 1340.0 166.3 C1340.2 167.1 1340.3 168.0 1340.4 168.8 C1340.5 169.6 1340.7 170.5 1340.8 171.3 C1340.9 172.1 1341.0 173.0 1341.2 173.8 C1341.3 174.6 1341.4 175.5 1341.5 176.3 C1341.7 177.1 1341.8 178.0 1341.9 178.8 C1342.1 179.6 1342.2 180.5 1342.3 181.3 C1342.4 182.1 1342.6 183.0 1342.7 183.8 C1342.8 184.6 1342.9 185.5 1343.1 186.3 C1343.2 187.1 1343.3 188.0 1343.5 188.8 C1343.6 189.6 1343.7 190.5 1343.8 191.3 C1344.0 192.1 1344.1 193.0 1344.2 193.8 C1344.4 194.6 1344.5 195.5 1344.6 196.3 C1344.8 197.1 1344.9 198.0 1345.0 198.8 C1345.1 199.6 1345.3 200.5 1345.4 201.3 C1345.5 202.1 1345.7 203.0 1345.8 203.8 C1345.9 204.6 1346.1 205.5 1346.2 206.3 C1346.3 207.1 1346.5 208.0 1346.6 208.8 C1346.7 209.6 1346.9 210.5 1347.0 211.3 C1347.1 212.1 1347.3 213.0 1347.4 213.8 C1347.5 214.6 1347.7 215.5 1347.8 216.3 C1347.9 217.1 1348.1 218.0 1348.2 218.8 C1348.3 219.6 1348.5 220.5 1348.6 221.3 C1348.7 222.1 1348.9 223.0 1349.0 223.8 C1349.1 224.6 1349.3 225.5 1349.4 226.3 C1349.5 227.1 1349.7 228.0 1349.8 228.8 C1349.9 229.6 1350.1 230.5 1350.2 231.3 C1350.4 232.1 1350.5 233.0 1350.6 233.8 C1350.8 234.6 1350.9 235.5 1351.0 236.3 C1351.2 237.1 1351.3 238.0 1351.5 238.8 C1351.6 239.6 1351.7 240.5 1351.9 241.3 C1352.0 242.1 1352.1 243.0 1352.3 243.8 C1352.4 244.6 1352.6 245.5 1352.7 246.3 C1352.8 247.1 1353.0 248.0 1353.1 248.8 C1353.3 249.6 1353.4 250.5 1353.5 251.3 C1353.7 252.1 1353.8 253.0 1354.0 253.8 C1354.1 254.6 1354.3 255.5 1354.4 256.3 C1354.5 257.1 1354.7 258.0 1354.8 258.8 C1355.0 259.6 1355.1 260.5 1355.2 261.3 C1355.4 262.1 1355.5 263.0 1355.7 263.8 C1355.8 264.6 1356.0 265.5 1356.1 266.3 C1356.3 267.1 1356.4 268.0 1356.5 268.8 C1356.7 269.6 1356.8 270.5 1357.0 271.3 C1357.1 272.1 1357.3 273.0 1357.4 273.8 C1357.6 274.6 1357.7 275.5 1357.9 276.3 C1358.0 277.1 1358.1 278.0 1358.3 278.8 C1358.4 279.6 1358.6 280.5 1358.7 281.3 C1358.9 282.1 1359.0 283.0 1359.2 283.8 C1359.3 284.6 1359.5 285.5 1359.6 286.3 C1359.8 287.1 1359.9 288.0 1360.1 288.8 C1360.2 289.6 1360.4 290.5 1360.5 291.3 C1360.7 292.1 1360.8 293.0 1361.0 293.8 C1361.1 294.6 1361.3 295.5 1361.4 296.3 C1361.6 297.1 1361.7 298.0 1361.9 298.8 C1362.0 299.6 1362.2 300.5 1362.3 301.3 C1362.5 302.1 1362.6 303.0 1362.8 303.8 C1362.9 304.6 1363.1 305.5 1363.3 306.3 C1363.4 307.1 1363.6 308.0 1363.7 308.8 C1363.9 309.6 1364.0 310.5 1364.2 311.3 C1364.3 312.1 1364.5 313.0 1364.6 313.8 C1364.8 314.6 1365.0 315.5 1365.1 316.3 C1365.3 317.1 1365.4 318.0 1365.6 318.8 C1365.7 319.6 1365.9 320.5 1366.1 321.3 C1366.2 322.1 1366.4 323.0 1366.5 323.8 C1366.7 324.6 1366.8 325.5 1367.0 326.3 C1367.2 327.1 1367.3 328.0 1367.5 328.8 C1367.6 329.6 1367.8 330.5 1368.0 331.3 C1368.1 332.1 1368.3 333.0 1368.4 333.8 C1368.6 334.6 1368.8 335.5 1368.9 336.3 C1369.1 337.1 1369.3 338.0 1369.4 338.8 C1369.6 339.6 1369.7 340.5 1369.9 341.3 C1370.1 342.1 1370.2 343.0 1370.4 343.8 C1370.6 344.6 1370.7 345.5 1370.9 346.3 C1371.1 347.1 1371.2 348.0 1371.4 348.8 C1371.5 349.6 1371.7 350.5 1371.9 351.3 C1372.0 352.1 1372.2 353.0 1372.4 353.8 C1372.5 354.6 1372.7 355.5 1372.9 356.3 C1373.0 357.1 1373.2 358.0 1373.4 358.8 C1373.6 359.6 1373.7 360.5 1373.9 361.3 C1374.1 362.1 1374.2 363.0 1374.4 363.8 C1374.6 364.6 1374.7 365.5 1374.9 366.3 C1375.1 367.1 1375.2 368.0 1375.4 368.8 C1375.6 369.6 1375.8 370.5 1375.9 371.3 C1376.1 372.1 1376.3 373.0 1376.4 373.8 C1376.6 374.6 1376.8 375.5 1377.0 376.3 C1377.1 377.1 1377.3 378.0 1377.5 378.8 C1377.7 379.6 1377.8 380.5 1378.0 381.3 C1378.2 382.1 1378.4 383.0 1378.5 383.8 C1378.7 384.6 1378.9 385.5 1379.1 386.3 C1379.2 387.1 1379.4 388.0 1379.6 388.8 C1379.8 389.6 1379.9 390.5 1380.1 391.3 C1380.3 392.1 1380.5 393.0 1380.7 393.8 C1380.8 394.6 1381.0 395.5 1381.2 396.3 C1381.4 397.1 1381.6 398.0 1381.7 398.8 C1381.9 399.6 1382.1 400.5 1382.3 401.3 C1382.5 402.1 1382.6 403.0 1382.8 403.8 C1383.0 404.6 1383.2 405.5 1383.4 406.3 C1383.6 407.1 1383.7 408.0 1383.9 408.8 C1384.1 409.6 1384.3 410.5 1384.5 411.3 C1384.7 412.1 1384.8 413.0 1385.0 413.8 C1385.2 414.6 1385.4 415.5 1385.6 416.3 C1385.8 417.1 1386.0 418.0 1386.1 418.8 C1386.3 419.6 1386.5 420.5 1386.7 421.3 C1386.9 422.1 1387.1 423.0 1387.3 423.8 C1387.5 424.6 1387.6 425.5 1387.8 426.3 C1388.0 427.1 1388.2 428.0 1388.4 428.8 C1388.6 429.6 1388.8 430.5 1389.0 431.3 C1389.2 432.1 1389.4 433.0 1389.5 433.8 C1389.7 434.6 1389.9 435.5 1390.1 436.3 C1390.3 437.1 1390.5 438.0 1390.7 438.8 C1390.9 439.6 1391.1 440.5 1391.3 441.3 C1391.5 442.1 1391.7 443.0 1391.9 443.8 C1392.1 444.6 1392.3 445.5 1392.5 446.3 C1392.7 447.1 1392.9 448.0 1393.0 448.8 C1393.2 449.6 1393.4 450.5 1393.6 451.3 C1393.8 452.1 1394.0 453.0 1394.2 453.8 C1394.4 454.6 1394.6 455.5 1394.8 456.3 C1395.0 457.1 1395.2 458.0 1395.4 458.8 C1395.6 459.6 1395.8 460.5 1396.0 461.3 C1396.2 462.1 1396.4 463.0 1396.6 463.8 C1396.8 464.6 1397.0 465.5 1397.3 466.3 C1397.5 467.1 1397.7 468.0 1397.9 468.8 C1398.1 469.6 1398.3 470.5 1398.5 471.3 C1398.7 472.1 1398.9 473.0 1399.1 473.8 C1399.3 474.6 1399.5 475.5 1399.7 476.3 C1399.9 477.1 1400.1 478.0 1400.3 478.8 C1400.5 479.6 1400.8 480.5 1401.0 481.3 C1401.2 482.1 1401.4 483.0 1401.6 483.8 C1401.8 484.6 1402.0 485.5 1402.2 486.3 C1402.4 487.1 1402.6 488.0 1402.9 488.8 C1403.1 489.6 1403.3 490.5 1403.5 491.3 C1403.7 492.1 1403.9 493.0 1404.1 493.8 C1404.4 494.6 1404.6 495.5 1404.8 496.3 C1405.0 497.1 1405.2 498.0 1405.4 498.8 C1405.6 499.6 1405.9 500.5 1406.1 501.3 C1406.3 502.1 1406.5 503.0 1406.7 503.8 C1407.0 504.6 1407.2 505.5 1407.4 506.3 C1407.6 507.1 1407.8 508.0 1408.1 508.8 C1408.3 509.6 1408.5 510.5 1408.7 511.3 C1408.9 512.1 1409.2 513.0 1409.4 513.8 C1409.6 514.6 1409.8 515.5 1410.1 516.3 C1410.3 517.1 1410.5 518.0 1410.7 518.8 C1411.0 519.6 1411.2 520.5 1411.4 521.3 C1411.6 522.1 1411.9 523.0 1412.1 523.8 C1412.3 524.6 1412.6 525.5 1412.8 526.3 C1413.0 527.1 1413.2 528.0 1413.5 528.8 C1413.7 529.6 1413.9 530.5 1414.2 531.3 C1414.4 532.1 1414.6 533.0 1414.9 533.8 C1415.1 534.6 1415.3 535.5 1415.6 536.3 C1415.8 537.1 1416.0 538.0 1416.3 538.8 C1416.5 539.6 1416.7 540.5 1417.0 541.3 C1417.2 542.1 1417.5 543.0 1417.7 543.8 C1417.9 544.6 1418.2 545.5 1418.4 546.3 C1418.7 547.1 1418.9 548.0 1419.1 548.8 C1419.4 549.6 1419.6 550.5 1419.9 551.3 C1420.1 552.1 1420.4 553.0 1420.6 553.8 C1420.8 554.6 1421.1 555.5 1421.3 556.3 C1421.6 557.1 1421.8 558.0 1422.1 558.8 C1422.3 559.6 1422.6 560.5 1422.8 561.3 C1423.1 562.1 1423.3 563.0 1423.6 563.8 C1423.8 564.6 1424.1 565.5 1424.3 566.3 C1424.6 567.1 1424.8 568.0 1425.1 568.8 C1425.3 569.6 1425.6 570.5 1425.8 571.3 C1426.1 572.1 1426.4 573.0 1426.6 573.8 C1426.9 574.6 1427.1 575.5 1427.4 576.3 C1427.6 577.1 1427.9 578.0 1428.2 578.8 C1428.4 579.6 1428.7 580.5 1428.9 581.3 C1429.2 582.1 1429.5 583.0 1429.7 583.8 C1430.0 584.6 1430.3 585.5 1430.5 586.3 C1430.8 587.1 1431.1 588.0 1431.3 588.8 C1431.6 589.6 1431.9 590.5 1432.1 591.3 C1432.4 592.1 1432.7 593.0 1432.9 593.8 C1433.2 594.6 1433.5 595.5 1433.7 596.3 C1434.0 597.1 1434.3 598.0 1434.6 598.8 C1434.8 599.6 1435.1 600.5 1435.4 601.3 C1435.7 602.1 1435.9 603.0 1436.2 603.8 C1436.5 604.6 1436.8 605.5 1437.0 606.3 C1437.3 607.1 1437.6 608.0 1437.9 608.8 C1438.2 609.6 1438.4 610.5 1438.7 611.3 C1439.0 612.1 1439.3 613.0 1439.6 613.8 C1439.9 614.6 1440.1 615.5 1440.4 616.3 C1440.7 617.1 1441.0 618.0 1441.3 618.8 C1441.6 619.6 1441.9 620.5 1442.2 621.3 C1442.4 622.1 1442.7 623.0 1443.0 623.8 C1443.3 624.6 1443.6 625.5 1443.9 626.3 C1444.2 627.1 1444.5 628.0 1444.8 628.8 C1445.1 629.6 1445.4 630.5 1445.7 631.3 C1446.0 632.1 1446.3 633.0 1446.6 633.8 C1446.9 634.6 1447.2 635.5 1447.5 636.3 C1447.8 637.1 1448.1 638.0 1448.4 638.8 C1448.7 639.6 1449.0 640.5 1449.3 641.3 C1449.6 642.1 1449.9 643.0 1450.2 643.8 C1450.5 644.6 1450.8 645.5 1451.1 646.3 C1451.4 647.1 1451.8 648.0 1452.1 648.8 C1452.4 649.6 1452.7 650.5 1453.0 651.3 C1453.3 652.1 1453.6 653.0 1454.0 653.8 C1454.3 654.6 1454.6 655.5 1454.9 656.3 C1455.2 657.1 1455.5 658.0 1455.9 658.8 C1456.2 659.6 1456.5 660.5 1456.8 661.3 C1457.1 662.1 1457.5 663.0 1457.8 663.8 C1458.1 664.6 1458.4 665.5 1458.8 666.3 C1459.1 667.1 1459.4 668.0 1459.7 668.8 C1460.1 669.6 1460.4 670.5 1460.7 671.3 C1461.1 672.1 1461.4 673.0 1461.7 673.8 C1462.1 674.6 1462.4 675.5 1462.7 676.3 C1463.1 677.1 1463.4 678.0 1463.7 678.8 C1464.1 679.6 1464.4 680.5 1464.8 681.3 C1465.1 682.1 1465.4 683.0 1465.8 683.8 C1466.1 684.6 1466.5 685.5 1466.8 686.3 C1467.1 687.1 1467.5 688.0 1467.8 688.8 C1468.2 689.6 1468.5 690.5 1468.9 691.3 C1469.2 692.1 1469.6 693.0 1469.9 693.8 C1470.3 694.6 1470.6 695.5 1471.0 696.3 C1471.3 697.1 1471.7 698.0 1472.0 698.8 C1472.4 699.6 1472.8 700.5 1473.1 701.3 C1473.5 702.1 1473.8 703.0 1474.2 703.8 C1474.6 704.6 1474.9 705.5 1475.3 706.3 C1475.6 707.1 1476.0 708.0 1476.4 708.8 C1476.7 709.6 1477.1 710.5 1477.5 711.3 C1477.8 712.1 1478.2 713.0 1478.6 713.8 C1479.0 714.6 1479.3 715.5 1479.7 716.3 C1480.1 717.1 1480.4 718.0 1480.8 718.8 C1481.2 719.6 1481.6 720.5 1481.9 721.3 C1482.3 722.1 1482.7 723.0 1483.1 723.8 C1483.5 724.6 1483.8 725.5 1484.2 726.3 C1484.6 727.1 1485.0 728.0 1485.4 728.8 C1485.8 729.6 1486.2 730.5 1486.5 731.3 C1486.9 732.1 1487.3 733.0 1487.7 733.8 C1488.1 734.6 1488.5 735.5 1488.9 736.3 C1489.3 737.1 1489.7 738.0 1490.1 738.8 C1490.5 739.6 1490.9 740.5 1491.3 741.3 C1491.7 742.1 1492.1 743.0 1492.5 743.8 C1492.9 744.6 1493.3 745.5 1493.7 746.3 C1494.1 747.1 1494.5 748.0 1494.9 748.8 C1495.3 749.6 1494.5 747.5 1496.1 751.3 C1497.7 755.1 1501.9 765.7 1504.5 771.5 C1507.1 777.3 1509.1 781.2 1511.5 786.0 C1513.9 790.8 1516.2 795.3 1519.1 800.5 C1522.0 805.7 1526.0 812.9 1528.9 817.0 C1531.9 821.1 1534.5 823.4 1536.8 825.3 C1539.1 827.2 1540.6 826.9 1542.6 828.2 C1544.5 829.5 1546.8 832.0 1548.5 833.2 C1550.2 834.4 1551.2 835.8 1552.5 835.5 C1553.8 835.2 1554.5 832.4 1556.4 831.2 C1558.4 830.0 1561.2 828.0 1564.2 828.2 C1567.2 828.4 1571.1 830.4 1574.1 832.2 C1577.0 834.0 1579.6 837.3 1581.9 839.0 C1584.2 840.7 1585.8 842.8 1587.8 842.5 C1589.8 842.2 1591.7 838.4 1593.7 837.0 C1595.7 835.6 1597.8 834.5 1599.6 834.1 C1601.4 833.7 1602.9 834.1 1604.8 834.5 C1606.7 834.9 1609.9 836.2 1610.9 836.5 C1611.1 829.8 1611.6 810.9 1612.2 796.0 C1612.8 781.1 1613.6 763.3 1614.6 747.0 C1615.6 730.7 1616.9 714.3 1618.3 698.0 C1619.7 681.7 1621.6 660.7 1623.0 649.0 C1624.4 637.3 1625.8 633.1 1626.8 628.0 C1627.8 622.9 1628.9 619.9 1629.3 618.3 C1629.7 620.9 1630.9 629.5 1631.8 634.0 C1632.7 638.5 1633.3 642.4 1634.5 645.0 C1635.7 647.6 1637.1 650.4 1638.9 649.9 C1640.7 649.4 1643.4 644.9 1645.4 641.8 C1647.4 638.6 1649.2 634.6 1650.8 631.0 C1652.4 627.4 1654.0 623.7 1655.1 620.2 C1656.2 616.7 1657.1 611.7 1657.5 610.0" fill="none" stroke="#da0000" stroke-width="6.3" stroke-linejoin="round" stroke-linecap="round"/>
<rect x="116.5" y="142.3" width="46.7" height="619.0" fill="none" stroke="#000" stroke-width="3.1" stroke-dasharray="11.75 9.09"/>
<rect x="318.5" y="142.2" width="348.2" height="619.2" fill="none" stroke="#000" stroke-width="3.1" stroke-dasharray="11.75 9.09"/>
<rect x="769.9" y="142.4" width="342.6" height="619.2" fill="none" stroke="#000" stroke-width="3.1" stroke-dasharray="11.75 9.09"/>
<rect x="1296.1" y="142.3" width="349.0" height="618.9" fill="none" stroke="#000" stroke-width="3.1" stroke-dasharray="11.75 9.09"/><text x="378.6" y="131.5" class="a" textLength="198.0" lengthAdjust="spacingAndGlyphs">TVAC full cycle 1</text>
<text x="831.8" y="131.7" class="a" textLength="198.0" lengthAdjust="spacingAndGlyphs">TVAC full cycle 2</text>
<text x="1372.0" y="131.8" class="a" textLength="198.0" lengthAdjust="spacingAndGlyphs">TVAC full cycle 3</text>
<text x="104.8" y="791.3" class="f" textLength="66.5" lengthAdjust="spacingAndGlyphs">FT0RT</text>
<text x="304.6" y="791.3" class="f" textLength="70.2" lengthAdjust="spacingAndGlyphs">FT1HC</text>
<text x="587.0" y="791.3" class="f" textLength="67.8" lengthAdjust="spacingAndGlyphs">FT1CC</text>
<text x="746.3" y="791.3" class="f" textLength="70.2" lengthAdjust="spacingAndGlyphs">FT2HC</text>
<text x="1037.2" y="791.3" class="f" textLength="67.8" lengthAdjust="spacingAndGlyphs">FT2CC</text>
<text x="1281.1" y="791.3" class="f" textLength="70.2" lengthAdjust="spacingAndGlyphs">FT3HC</text>
<text x="1573.1" y="791.3" class="f" textLength="67.8" lengthAdjust="spacingAndGlyphs">FT3CC</text>
<path d="M129 850.3H1643" stroke="#5aab4f" stroke-width="3.2" stroke-dasharray="13.4 10.03" stroke-dashoffset="0.5" fill="none"/>
<path d="M113.9 850.3L130.0 842.5L130.0 858.0999999999999Z" fill="#5aab4f"/>
<path d="M1657.3 850.3L1642.3 842.5L1642.3 858.0999999999999Z" fill="#5aab4f"/>
<text x="796.0" y="876.5" class="h" textLength="105.8" lengthAdjust="spacingAndGlyphs">28 hours</text>
<path d="M790.3 549.6H1091" stroke="#5aab4f" stroke-width="2.9" stroke-dasharray="11.9 8.92" fill="none"/>
<path d="M776.2 549.6L792.0 542.0L792.0 557.2Z" fill="#5aab4f"/>
<path d="M1105.8 549.6L1090.0 542.0L1090.0 557.2Z" fill="#5aab4f"/>
<text x="901.0" y="576.4" class="g" textLength="100.7" lengthAdjust="spacingAndGlyphs">~350 min</text>
<path d="M735 259.7H764" stroke="#5aab4f" stroke-width="2.9" stroke-dasharray="6.8 3.2 8.8 3.2" fill="none"/>
<path d="M720.0 259.7L735.9 251.89999999999998L735.9 267.5Z" fill="#5aab4f"/>
<path d="M778.9 259.7L763.3 251.89999999999998L763.3 267.5Z" fill="#5aab4f"/>
<text x="724.3" y="242.7" class="g" textLength="46.5" lengthAdjust="spacingAndGlyphs">~1 h</text>
<path d="M1031 826.9H1053" stroke="#5aab4f" stroke-width="2.9" stroke-dasharray="6.8 3.2 8 3.2" fill="none"/>
<path d="M1016.4 826.9L1032.1 819.0L1032.1 834.8Z" fill="#5aab4f"/>
<path d="M1067.4 826.9L1051.7 819.0L1051.7 834.8Z" fill="#5aab4f"/>
<text x="1016.7" y="814.1" class="g" textLength="46.5" lengthAdjust="spacingAndGlyphs">~1 h</text>
<path d="M739.2 76.1H764" stroke="#5aab4f" stroke-width="3.0" stroke-dasharray="1.9 3.7 8 3.7 8 3.7" fill="none"/>
<path d="M779.2 76.1L763.7 68.39999999999999L763.7 83.8Z" fill="#5aab4f"/>
<path d="M845.9 76.1H821" stroke="#5aab4f" stroke-width="3.0" stroke-dasharray="2.6 3.2 8.4 3.2 8 3.7" fill="none"/>
<path d="M805.6 76.1L821.3 68.39999999999999L821.3 83.8Z" fill="#5aab4f"/>
<text x="759.4" y="61.8" class="g" textLength="74.0" lengthAdjust="spacingAndGlyphs">20 min</text>
<path d="M784.2 66.2V151.5" stroke="#5aab4f" stroke-width="2.1" stroke-dasharray="6 2.9" stroke-dashoffset="2.6" fill="none"/>
<path d="M804.0 66.2V149.0" stroke="#5aab4f" stroke-width="2.1" stroke-dasharray="6 2.9" stroke-dashoffset="2.6" fill="none"/>
<path d="M733.2 808.1H762" stroke="#5aab4f" stroke-width="3.2" stroke-dasharray="5.4 3.4 8.8 2.9 8 3" fill="none"/>
<path d="M776.9 808.1L761.2 800.25L761.2 815.95Z" fill="#5aab4f"/>
<path d="M833.8 808.1H805" stroke="#5aab4f" stroke-width="3.2" stroke-dasharray="5.9 4 7.4 4 8 3" fill="none"/>
<path d="M790.2 808.1L806.2 800.25L806.2 815.95Z" fill="#5aab4f"/>
<text x="751.7" y="838.5" class="g" textLength="60.6" lengthAdjust="spacingAndGlyphs">5 min</text>
<path d="M780.7 749V819" stroke="#5aab4f" stroke-width="2.1" stroke-dasharray="6.6 2.5" fill="none"/>
<path d="M787.0 749V819" stroke="#5aab4f" stroke-width="2.1" stroke-dasharray="6.6 2.5" fill="none"/>
</svg>
</body></html>
